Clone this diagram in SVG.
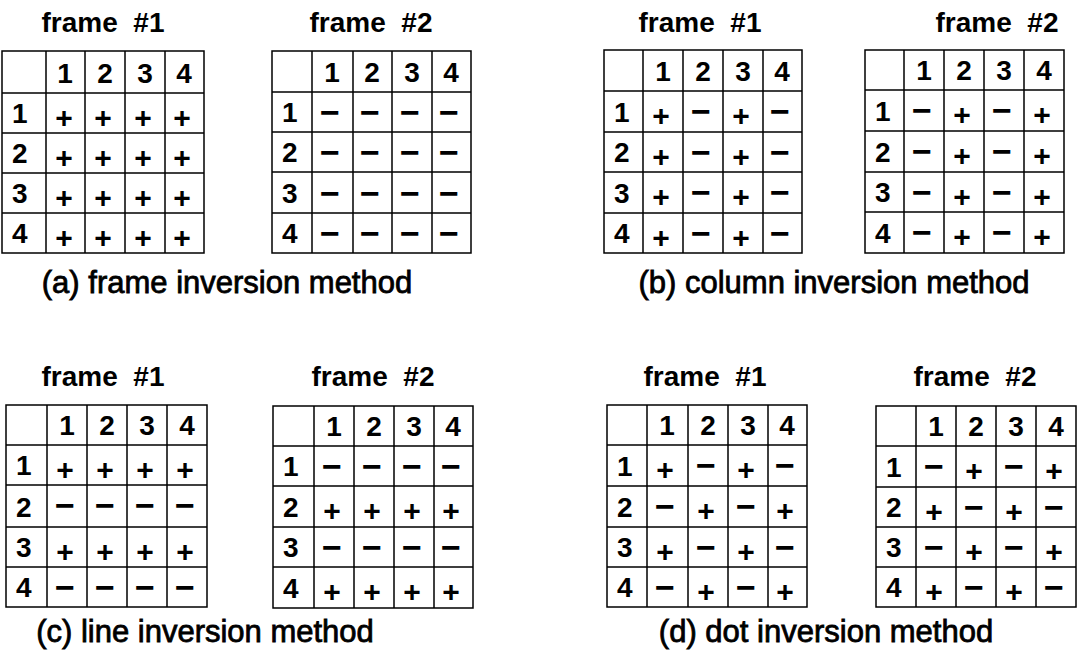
<svg xmlns="http://www.w3.org/2000/svg" width="1078" height="654" viewBox="0 0 1078 654">
<style>
text{font-family:"Liberation Sans",Arial,Helvetica,sans-serif;font-weight:bold;fill:#000}
.lbl{font-size:28px;text-anchor:middle}
.cap{font-size:31px;text-anchor:middle;font-weight:normal;stroke:#000;stroke-width:0.8px}
.h{font-size:28px;text-anchor:middle}
.r{font-size:28px}
.p{font-size:30px;text-anchor:middle;transform:translateY(2px)}
.m{font-size:34px;text-anchor:middle;transform:translateY(1px)}
.g{fill:none;stroke:#000;stroke-width:1.5}
</style>
<rect width="1078" height="654" fill="#fff"/>

<!-- (a) frame #1 -->
<g id="a1">
<text class="lbl" x="103" y="32" xml:space="preserve">frame  #1</text>
<path class="g" d="M2 51H204V253H2Z M46 51V253 M85 51V253 M125 51V253 M165 51V253 M2 93H204 M2 133H204 M2 173H204 M2 213H204"/>
<text class="h" x="65" y="83">1</text><text class="h" x="105" y="83">2</text><text class="h" x="145" y="83">3</text><text class="h" x="184" y="83">4</text>
<text class="r" x="12" y="123">1</text><text class="r" x="12" y="163">2</text><text class="r" x="12" y="203">3</text><text class="r" x="12" y="243">4</text>
<text class="p" x="64" y="126">+</text><text class="p" x="103" y="126">+</text><text class="p" x="143" y="126">+</text><text class="p" x="182" y="126">+</text>
<text class="p" x="64" y="166">+</text><text class="p" x="103" y="166">+</text><text class="p" x="143" y="166">+</text><text class="p" x="182" y="166">+</text>
<text class="p" x="64" y="206">+</text><text class="p" x="103" y="206">+</text><text class="p" x="143" y="206">+</text><text class="p" x="182" y="206">+</text>
<text class="p" x="64" y="246">+</text><text class="p" x="103" y="246">+</text><text class="p" x="143" y="246">+</text><text class="p" x="182" y="246">+</text>
</g>

<!-- (a) frame #2 -->
<g id="a2">
<text class="lbl" x="371" y="32" xml:space="preserve">frame  #2</text>
<path class="g" d="M272 51H471V253H272Z M312 51V253 M353 51V253 M392 51V253 M432 51V253 M272 92H471 M272 132H471 M272 172H471 M272 213H471"/>
<text class="h" x="332" y="82">1</text><text class="h" x="372" y="82">2</text><text class="h" x="412" y="82">3</text><text class="h" x="451" y="82">4</text>
<text class="r" x="282" y="122">1</text><text class="r" x="282" y="162">2</text><text class="r" x="282" y="203">3</text><text class="r" x="282" y="243">4</text>
<text class="m" x="330" y="123">−</text><text class="m" x="370" y="123">−</text><text class="m" x="410" y="123">−</text><text class="m" x="449" y="123">−</text>
<text class="m" x="330" y="163">−</text><text class="m" x="370" y="163">−</text><text class="m" x="410" y="163">−</text><text class="m" x="449" y="163">−</text>
<text class="m" x="330" y="204">−</text><text class="m" x="370" y="204">−</text><text class="m" x="410" y="204">−</text><text class="m" x="449" y="204">−</text>
<text class="m" x="330" y="244">−</text><text class="m" x="370" y="244">−</text><text class="m" x="410" y="244">−</text><text class="m" x="449" y="244">−</text>
</g>
<text id="capA" class="cap" x="227" y="293">(a) frame inversion method</text>

<!-- (b) frame #1 -->
<g id="b1">
<text class="lbl" x="700" y="32" xml:space="preserve">frame  #1</text>
<path class="g" d="M604 50H802V253H604Z M643 50V253 M683 50V253 M723 50V253 M763 50V253 M604 91H802 M604 132H802 M604 172H802 M604 213H802"/>
<text class="h" x="663" y="81">1</text><text class="h" x="703" y="81">2</text><text class="h" x="743" y="81">3</text><text class="h" x="782" y="81">4</text>
<text class="r" x="614" y="122">1</text><text class="r" x="614" y="162">2</text><text class="r" x="614" y="203">3</text><text class="r" x="614" y="243">4</text>
<text class="p" x="661" y="124">+</text><text class="m" x="701" y="122">−</text><text class="p" x="741" y="124">+</text><text class="m" x="780" y="122">−</text>
<text class="p" x="661" y="165">+</text><text class="m" x="701" y="163">−</text><text class="p" x="741" y="165">+</text><text class="m" x="780" y="163">−</text>
<text class="p" x="661" y="205">+</text><text class="m" x="701" y="203">−</text><text class="p" x="741" y="205">+</text><text class="m" x="780" y="203">−</text>
<text class="p" x="661" y="246">+</text><text class="m" x="701" y="244">−</text><text class="p" x="741" y="246">+</text><text class="m" x="780" y="244">−</text>
</g>

<!-- (b) frame #2 -->
<g id="b2">
<text class="lbl" x="997" y="32" xml:space="preserve">frame  #2</text>
<path class="g" d="M865 50H1064V253H865Z M904 50V253 M944 50V253 M984 50V253 M1024 50V253 M865 90H1064 M865 131H1064 M865 172H1064 M865 212H1064"/>
<text class="h" x="924" y="80">1</text><text class="h" x="964" y="80">2</text><text class="h" x="1004" y="80">3</text><text class="h" x="1044" y="80">4</text>
<text class="r" x="875" y="121">1</text><text class="r" x="875" y="162">2</text><text class="r" x="875" y="202">3</text><text class="r" x="875" y="243">4</text>
<text class="m" x="922" y="121">−</text><text class="p" x="962" y="123">+</text><text class="m" x="1002" y="121">−</text><text class="p" x="1042" y="123">+</text>
<text class="m" x="922" y="162">−</text><text class="p" x="962" y="164">+</text><text class="m" x="1002" y="162">−</text><text class="p" x="1042" y="164">+</text>
<text class="m" x="922" y="203">−</text><text class="p" x="962" y="205">+</text><text class="m" x="1002" y="203">−</text><text class="p" x="1042" y="205">+</text>
<text class="m" x="922" y="243">−</text><text class="p" x="962" y="245">+</text><text class="m" x="1002" y="243">−</text><text class="p" x="1042" y="245">+</text>
</g>
<text id="capB" class="cap" x="834" y="293">(b) column inversion method</text>

<!-- (c) frame #1 -->
<g id="c1">
<text class="lbl" x="103" y="386" xml:space="preserve">frame  #1</text>
<path class="g" d="M6 405H207V607H6Z M47 405V607 M87 405V607 M127 405V607 M167 405V607 M6 445H207 M6 485H207 M6 527H207 M6 567H207"/>
<text class="h" x="67" y="435">1</text><text class="h" x="107" y="435">2</text><text class="h" x="147" y="435">3</text><text class="h" x="187" y="435">4</text>
<text class="r" x="16" y="475">1</text><text class="r" x="16" y="517">2</text><text class="r" x="16" y="557">3</text><text class="r" x="16" y="597">4</text>
<text class="p" x="65" y="478">+</text><text class="p" x="105" y="478">+</text><text class="p" x="145" y="478">+</text><text class="p" x="185" y="478">+</text>
<text class="m" x="65" y="516">−</text><text class="m" x="105" y="516">−</text><text class="m" x="145" y="516">−</text><text class="m" x="185" y="516">−</text>
<text class="p" x="65" y="560">+</text><text class="p" x="105" y="560">+</text><text class="p" x="145" y="560">+</text><text class="p" x="185" y="560">+</text>
<text class="m" x="65" y="598">−</text><text class="m" x="105" y="598">−</text><text class="m" x="145" y="598">−</text><text class="m" x="185" y="598">−</text>
</g>

<!-- (c) frame #2 -->
<g id="c2">
<text class="lbl" x="373" y="386" xml:space="preserve">frame  #2</text>
<path class="g" d="M273 406H473V608H273Z M314 406V608 M354 406V608 M394 406V608 M434 406V608 M273 446H473 M273 486H473 M273 527H473 M273 567H473"/>
<text class="h" x="334" y="436">1</text><text class="h" x="374" y="436">2</text><text class="h" x="414" y="436">3</text><text class="h" x="453" y="436">4</text>
<text class="r" x="283" y="476">1</text><text class="r" x="283" y="517">2</text><text class="r" x="283" y="557">3</text><text class="r" x="283" y="598">4</text>
<text class="m" x="332" y="477">−</text><text class="m" x="372" y="477">−</text><text class="m" x="412" y="477">−</text><text class="m" x="451" y="477">−</text>
<text class="p" x="332" y="519">+</text><text class="p" x="372" y="519">+</text><text class="p" x="412" y="519">+</text><text class="p" x="451" y="519">+</text>
<text class="m" x="332" y="558">−</text><text class="m" x="372" y="558">−</text><text class="m" x="412" y="558">−</text><text class="m" x="451" y="558">−</text>
<text class="p" x="332" y="600">+</text><text class="p" x="372" y="600">+</text><text class="p" x="412" y="600">+</text><text class="p" x="451" y="600">+</text>
</g>
<text id="capC" class="cap" x="205" y="642">(c) line inversion method</text>

<!-- (d) frame #1 -->
<g id="d1">
<text class="lbl" x="705" y="386" xml:space="preserve">frame  #1</text>
<path class="g" d="M607 405H807V607H607Z M647 405V607 M688 405V607 M728 405V607 M768 405V607 M607 445H807 M607 486H807 M607 527H807 M607 567H807"/>
<text class="h" x="667" y="435">1</text><text class="h" x="708" y="435">2</text><text class="h" x="748" y="435">3</text><text class="h" x="787" y="435">4</text>
<text class="r" x="617" y="476">1</text><text class="r" x="617" y="517">2</text><text class="r" x="617" y="557">3</text><text class="r" x="617" y="597">4</text>
<text class="p" x="665" y="478">+</text><text class="m" x="706" y="476">−</text><text class="p" x="746" y="478">+</text><text class="m" x="785" y="476">−</text>
<text class="m" x="665" y="517">−</text><text class="p" x="706" y="519">+</text><text class="m" x="746" y="517">−</text><text class="p" x="785" y="519">+</text>
<text class="p" x="665" y="560">+</text><text class="m" x="706" y="558">−</text><text class="p" x="746" y="560">+</text><text class="m" x="785" y="558">−</text>
<text class="m" x="665" y="598">−</text><text class="p" x="706" y="600">+</text><text class="m" x="746" y="598">−</text><text class="p" x="785" y="600">+</text>
</g>

<!-- (d) frame #2 -->
<g id="d2">
<text class="lbl" x="975" y="386" xml:space="preserve">frame  #2</text>
<path class="g" d="M876 406H1076V607H876Z M916 406V607 M956 406V607 M996 406V607 M1036 406V607 M876 446H1076 M876 487H1076 M876 527H1076 M876 567H1076"/>
<text class="h" x="936" y="436">1</text><text class="h" x="976" y="436">2</text><text class="h" x="1016" y="436">3</text><text class="h" x="1056" y="436">4</text>
<text class="r" x="886" y="477">1</text><text class="r" x="886" y="517">2</text><text class="r" x="886" y="557">3</text><text class="r" x="886" y="597">4</text>
<text class="m" x="934" y="477">−</text><text class="p" x="974" y="479">+</text><text class="m" x="1014" y="477">−</text><text class="p" x="1054" y="479">+</text>
<text class="p" x="934" y="520">+</text><text class="m" x="974" y="518">−</text><text class="p" x="1014" y="520">+</text><text class="m" x="1054" y="518">−</text>
<text class="m" x="934" y="558">−</text><text class="p" x="974" y="560">+</text><text class="m" x="1014" y="558">−</text><text class="p" x="1054" y="560">+</text>
<text class="p" x="934" y="600">+</text><text class="m" x="974" y="598">−</text><text class="p" x="1014" y="600">+</text><text class="m" x="1054" y="598">−</text>
</g>
<text id="capD" class="cap" x="826" y="642">(d) dot inversion method</text>
</svg>
